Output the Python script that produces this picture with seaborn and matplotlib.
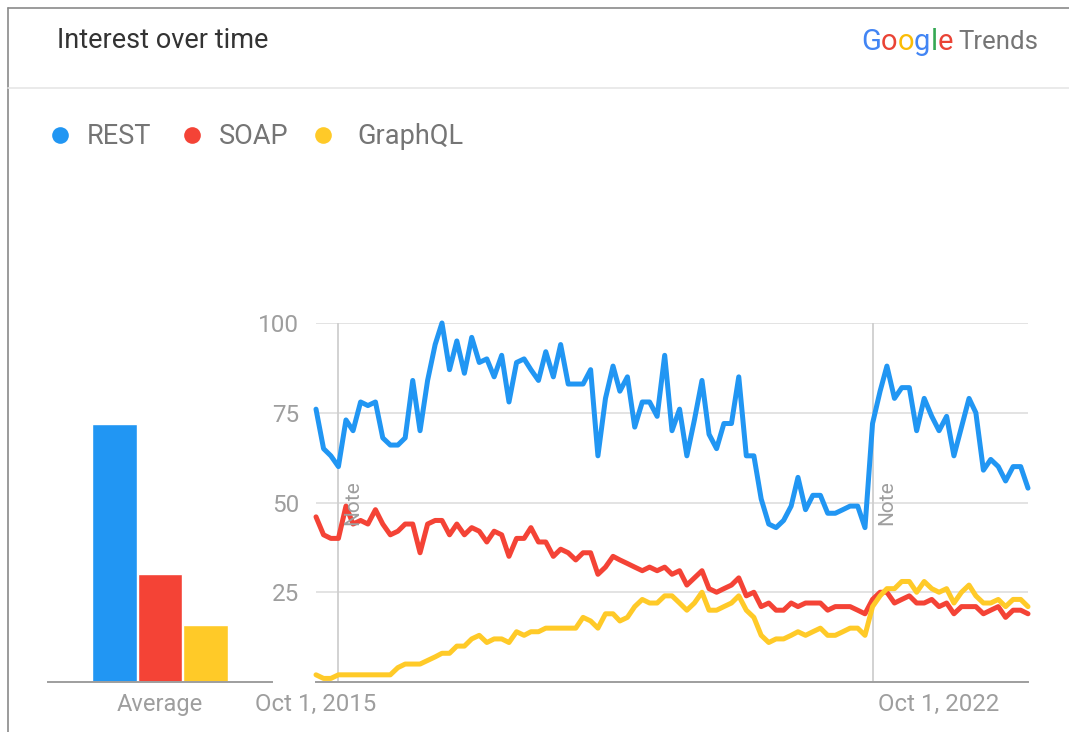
import numpy as np
import pandas as pd
import seaborn as sns
import matplotlib.pyplot as plt
from matplotlib.lines import Line2D

# ---------------- data ----------------
terms = ["REST", "SOAP", "GraphQL"]
colors = ["#2196F3", "#F44336", "#FFCA28"]
start_month = "2015-10-01"

rest = [76, 65, 63, 60, 73, 70, 78, 77, 78, 68,
        66, 66, 68, 84, 70, 84, 94, 100, 87, 95,
        86, 96, 89, 90, 85, 91, 78, 89, 90, 87,
        84, 92, 85, 94, 83, 83, 83, 87, 63, 79,
        88, 81, 85, 71, 78, 78, 74, 91, 70, 76,
        63, 73, 84, 69, 65, 72, 72, 85, 63, 63,
        51, 44, 43, 45, 49, 57, 48, 52, 52, 47,
        47, 48, 49, 49, 43, 72, 81, 88, 79, 82,
        82, 70, 79, 74, 70, 74, 63, 71, 79, 75,
        59, 62, 60, 56, 60, 60, 54]
soap = [46, 41, 40, 40, 49, 44, 45, 44, 48, 44,
        41, 42, 44, 44, 36, 44, 45, 45, 41, 44,
        41, 43, 42, 39, 42, 41, 35, 40, 40, 43,
        39, 39, 35, 37, 36, 34, 36, 36, 30, 32,
        35, 34, 33, 32, 31, 32, 31, 32, 30, 31,
        27, 29, 31, 26, 25, 26, 27, 29, 24, 25,
        21, 22, 20, 20, 22, 21, 22, 22, 22, 20,
        21, 21, 21, 20, 19, 23, 25, 25, 22, 23,
        24, 22, 22, 23, 21, 22, 19, 21, 21, 21,
        19, 20, 21, 18, 20, 20, 19]
graphql = [2, 1, 1, 2, 2, 2, 2, 2, 2, 2,
           2, 4, 5, 5, 5, 6, 7, 8, 8, 10,
           10, 12, 13, 11, 12, 12, 11, 14, 13, 14,
           14, 15, 15, 15, 15, 15, 18, 17, 15, 19,
           19, 17, 18, 21, 23, 22, 22, 24, 24, 22,
           20, 22, 25, 20, 20, 21, 22, 24, 20, 18,
           13, 11, 12, 12, 13, 14, 13, 14, 15, 13,
           13, 14, 15, 15, 13, 21, 24, 26, 26, 28,
           28, 25, 28, 26, 25, 26, 22, 25, 27, 24,
           22, 22, 23, 21, 23, 23, 21]
averages = [72, 30, 16]
y_ticks = [25, 50, 75, 100]
x_tick_dates = ["2015-10-01", "2022-10-01"]
x_tick_labels = ["Oct 1, 2015", "Oct 1, 2022"]
note_dates = ["2016-01-01", "2022-01-01"]

# ---------------- frames ----------------
dates = pd.date_range(start_month, periods=len(rest), freq="MS")
df = pd.concat([
    pd.DataFrame({"date": dates, "value": vals, "term": t})
    for t, vals in zip(terms, [rest, soap, graphql])
], ignore_index=True)
df_avg = pd.DataFrame({"period": ["Average"] * 3, "term": terms, "value": averages})

# ---------------- style ----------------
sns.set_theme(style="white")
plt.rcParams['font.family'] = ['Roboto', 'DejaVu Sans']

W, H = 1069, 732
fig = plt.figure(figsize=(W / 100, H / 100), dpi=100)
fig.patch.set_facecolor("white")

def fx(px):
    return px / W

def fy(py):
    return 1 - py / H

AX_COL = "#9e9e9e"
GRID_COL = "#e0e0e0"

# card border + header separator
fig.add_artist(Line2D([fx(8), fx(8)], [fy(8), fy(740)], color="#8a8a8a", lw=1.2, transform=fig.transFigure))
fig.add_artist(Line2D([fx(8), fx(1069)], [fy(8), fy(8)], color="#8a8a8a", lw=1.2, transform=fig.transFigure))
fig.add_artist(Line2D([fx(8), fx(1069)], [fy(88), fy(88)], color="#e6e6e6", lw=1.2, transform=fig.transFigure))

# title
fig.text(fx(57), fy(40), "Interest over time", fontsize=19.5, color="#333333", ha="left", va="center")

# Google Trends logo
renderer = fig.canvas.get_renderer()
t_trends = fig.text(fx(1038), fy(42), "Trends", fontsize=18.5, color="#757575", ha="right", va="center")
bb = t_trends.get_window_extent(renderer)
x_cur = bb.x0 - 5
g_letters = list("Google")
g_cols = ["#4285F4", "#EA4335", "#FBBC05", "#4285F4", "#34A853", "#EA4335"]
for ch, c in reversed(list(zip(g_letters, g_cols))):
    t = fig.text(x_cur / W, fy(42), ch, fontsize=21, color=c, ha="right", va="center")
    b = t.get_window_extent(renderer)
    x_cur = b.x0

# legend
leg_x = [60, 192, 323]
leg_tx = [87, 219, 357]
for t, c, lx, tx in zip(terms, colors, leg_x, leg_tx):
    fig.add_artist(Line2D([fx(lx)], [fy(135)], marker="o", markersize=12, color=c,
                          markeredgewidth=0, transform=fig.transFigure))
    fig.text(fx(tx), fy(136), t, fontsize=19.5, color="#757575", ha="left", va="center")

# ---------------- line chart ----------------
ax = fig.add_axes([fx(316), fy(682), fx(1028) - fx(316), fy(323) - fy(682)])
for yv in y_ticks:
    ax.axhline(yv, color=GRID_COL, lw=1.3, zorder=0)
for nd in note_dates:
    ax.axvline(pd.Timestamp(nd), color="#cfcfcf", lw=1.3, zorder=0)
    ax.text(pd.Timestamp(nd) + pd.Timedelta(days=60), 50, "Note", rotation=90,
            ha="center", va="center", fontsize=15, color="#9e9e9e")

sns.lineplot(data=df, x="date", y="value", hue="term", hue_order=terms,
             palette=colors, linewidth=3.6, legend=False, ax=ax)
for ln in ax.lines:
    if ln.get_linewidth() > 2:
        ln.set_clip_on(False)
        ln.set_solid_joinstyle("round")

ax.set_xlim(dates[0], dates[-1])
ax.set_ylim(0, 100)
ax.set_yticks(y_ticks)
ax.set_yticklabels([str(v) for v in y_ticks])
ax.set_xticks([pd.Timestamp(d) for d in x_tick_dates])
ax.set_xticklabels(x_tick_labels)
ax.tick_params(axis="y", length=0, pad=12, labelsize=17.5, labelcolor=AX_COL)
ax.tick_params(axis="x", length=0, pad=8, labelsize=17.3, labelcolor=AX_COL)
ax.set_xlabel("")
ax.set_ylabel("")
for s in ["top", "right", "left"]:
    ax.spines[s].set_visible(False)
ax.spines["bottom"].set_color(AX_COL)
ax.spines["bottom"].set_linewidth(1.4)
ax.set_facecolor("none")

# ---------------- average bars ----------------
axb = fig.add_axes([fx(48), fy(682), fx(272) - fx(48), fy(323) - fy(682)])
sns.barplot(data=df_avg, x="period", y="value", hue="term", hue_order=terms,
            palette=colors, saturation=1, width=0.61, gap=0.03, legend=False, ax=axb)
axb.set_ylim(0, 100)
axb.set_xlim(-0.5, 0.5)
axb.set_yticks([])
axb.set_xlabel("")
axb.set_ylabel("")
axb.tick_params(axis="x", length=0, pad=8, labelsize=17, labelcolor=AX_COL)
for s in ["top", "right", "left"]:
    axb.spines[s].set_visible(False)
axb.spines["bottom"].set_color(AX_COL)
axb.spines["bottom"].set_linewidth(1.4)
axb.set_facecolor("none")

fig.savefig("out.png", dpi=100, facecolor="white")
